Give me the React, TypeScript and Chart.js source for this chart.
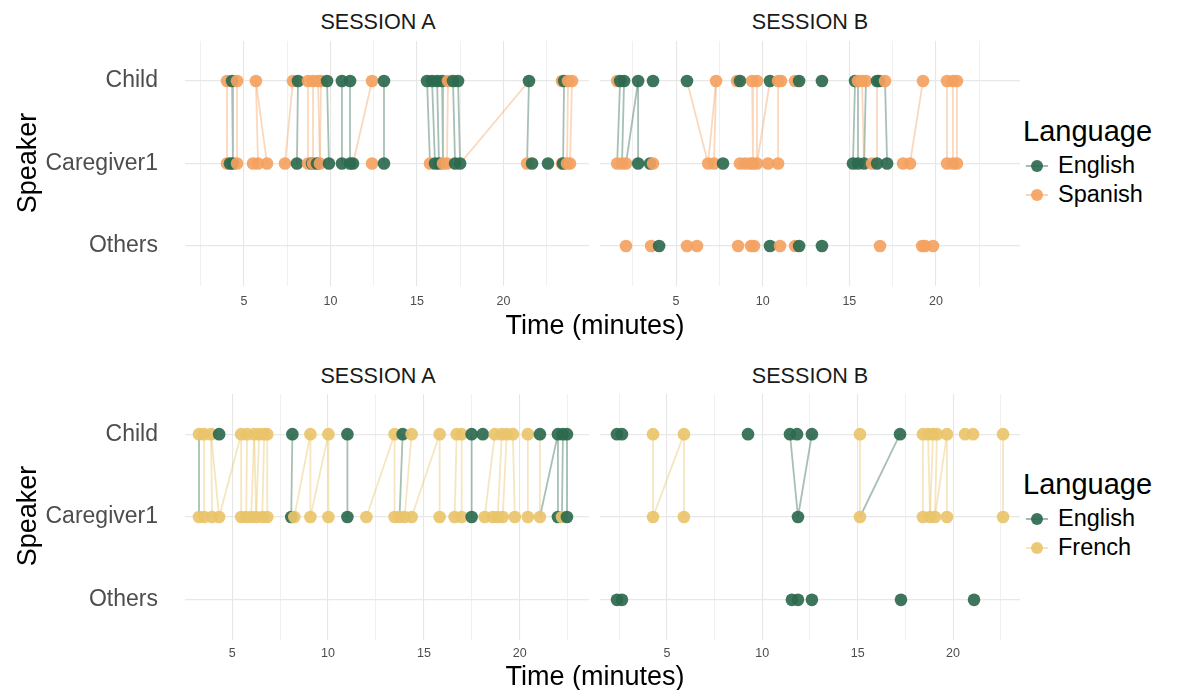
import React, { useEffect, useRef } from "react";
import { Chart, registerables } from "chart.js";
Chart.register(...registerables);

type Pt = [number, string];
type Link = [number, number, string];

const FONT = "'Liberation Sans', Arial, Helvetica, sans-serif";
const SPEAKERS = ["Others", "Caregiver1", "Child"];
const X_TICKS = [2.5, 5, 7.5, 10, 12.5, 15, 17.5, 20, 22.5];
const COLORS: Record<string, string> = { E: "45,106,79", S: "244,162,97", F: "233,196,106" };
const LANG_NAMES: Record<string, string> = { E: "English", S: "Spanish", F: "French" };

// ---- Spanish family, Session A ----
const spaA_child: Pt[] = [[4.02,"S"],[4.31,"E"],[4.60,"S"],[5.69,"S"],[7.83,"S"],[8.12,"E"],[8.70,"S"],[8.99,"S"],[9.28,"S"],[9.45,"S"],[9.80,"E"],[10.66,"E"],[11.13,"E"],[12.40,"S"],[13.09,"E"],[15.58,"E"],[15.87,"E"],[16.16,"E"],[16.45,"E"],[16.79,"S"],[17.08,"E"],[17.37,"E"],[21.47,"E"],[23.38,"S"],[23.50,"E"],[23.73,"S"],[23.96,"S"]];
const spaA_care: Pt[] = [[4.02,"S"],[4.19,"E"],[4.36,"E"],[4.60,"S"],[5.52,"S"],[5.81,"S"],[6.33,"S"],[7.37,"S"],[8.06,"E"],[8.70,"S"],[8.93,"E"],[8.99,"S"],[9.22,"E"],[9.39,"S"],[9.91,"E"],[10.66,"E"],[11.13,"E"],[11.30,"E"],[12.40,"S"],[13.09,"E"],[15.75,"S"],[16.04,"E"],[16.27,"E"],[16.50,"S"],[16.73,"S"],[17.20,"E"],[17.49,"E"],[21.36,"S"],[21.65,"E"],[22.57,"E"],[23.38,"S"],[23.44,"E"],[23.67,"S"],[23.84,"S"]];
const spaA_others: Pt[] = [];
const spaA_links: Link[] = [[4.02,4.02,"S"],[4.31,4.36,"E"],[4.60,4.60,"S"],[5.69,5.81,"S"],[5.69,6.33,"S"],[7.83,7.37,"S"],[8.12,8.06,"E"],[8.70,8.70,"S"],[8.99,8.99,"S"],[9.28,9.39,"S"],[9.45,9.39,"S"],[9.80,9.91,"E"],[10.66,10.66,"E"],[11.13,11.13,"E"],[12.40,11.30,"S"],[13.09,13.09,"E"],[15.58,15.75,"E"],[15.87,16.04,"E"],[16.16,16.27,"E"],[16.45,16.50,"E"],[16.79,16.73,"S"],[17.08,17.20,"E"],[17.37,17.49,"E"],[21.47,17.49,"S"],[21.47,21.36,"E"],[23.50,23.44,"E"],[23.73,23.67,"S"],[23.96,23.84,"S"]];

// ---- Spanish family, Session B ----
const spaB_child: Pt[] = [[1.60,"S"],[1.77,"E"],[2.00,"E"],[2.81,"E"],[3.67,"E"],[5.63,"E"],[7.31,"S"],[8.52,"S"],[8.69,"E"],[9.39,"S"],[9.67,"S"],[10.42,"E"],[10.89,"S"],[11.06,"S"],[11.87,"S"],[12.10,"E"],[13.42,"E"],[15.33,"E"],[15.50,"S"],[15.73,"S"],[15.96,"S"],[16.60,"E"],[16.71,"E"],[17.06,"S"],[19.25,"S"],[20.64,"S"],[20.98,"S"],[21.21,"S"]];
const spaB_care: Pt[] = [[1.60,"S"],[1.88,"S"],[2.11,"S"],[2.81,"E"],[3.50,"E"],[3.67,"S"],[6.85,"S"],[7.19,"S"],[7.71,"E"],[8.69,"S"],[8.98,"S"],[9.27,"S"],[9.44,"S"],[9.67,"S"],[10.31,"S"],[10.89,"S"],[15.21,"E"],[15.50,"E"],[15.85,"E"],[16.31,"S"],[16.60,"E"],[17.18,"E"],[18.10,"S"],[18.50,"S"],[20.64,"S"],[20.98,"S"],[21.21,"S"]];
const spaB_others: Pt[] = [[2.11,"S"],[3.56,"S"],[4.02,"E"],[5.63,"S"],[6.21,"S"],[8.58,"S"],[9.33,"S"],[9.50,"S"],[10.42,"E"],[11.00,"S"],[11.87,"S"],[12.10,"E"],[13.42,"E"],[16.77,"S"],[19.20,"S"],[19.37,"S"],[19.83,"S"]];
const spaB_links: Link[] = [[1.77,1.60,"E"],[2.00,1.88,"E"],[2.81,2.11,"E"],[2.81,2.81,"E"],[5.63,6.85,"S"],[7.31,6.85,"S"],[7.31,7.19,"S"],[9.39,9.44,"S"],[9.67,9.67,"S"],[10.42,9.67,"S"],[10.89,10.89,"S"],[15.33,15.21,"E"],[15.50,15.50,"E"],[15.73,15.85,"S"],[15.96,15.85,"E"],[16.60,16.60,"S"],[17.06,17.18,"E"],[19.25,18.50,"S"],[20.64,20.64,"S"],[20.98,20.98,"S"],[21.21,21.21,"S"]];

// ---- French family, Session A ----
const freA_child: Pt[] = [[3.27,"F"],[3.54,"F"],[3.90,"F"],[4.32,"E"],[5.47,"F"],[5.78,"F"],[6.15,"F"],[6.41,"F"],[6.67,"F"],[6.83,"F"],[8.14,"E"],[9.08,"F"],[10.02,"F"],[11.01,"E"],[13.47,"F"],[13.89,"E"],[14.36,"F"],[15.82,"F"],[16.71,"F"],[16.97,"F"],[17.49,"E"],[18.07,"E"],[18.70,"F"],[19.06,"F"],[19.32,"F"],[19.64,"F"],[20.42,"F"],[21.05,"E"],[21.99,"E"],[22.25,"E"],[22.46,"E"]];
const freA_care: Pt[] = [[3.27,"F"],[3.54,"F"],[3.95,"F"],[4.32,"F"],[5.47,"F"],[5.73,"F"],[5.99,"F"],[6.25,"F"],[6.57,"F"],[6.83,"F"],[8.08,"E"],[8.24,"F"],[9.08,"F"],[10.02,"F"],[11.01,"E"],[12.00,"F"],[13.47,"F"],[13.73,"F"],[13.99,"F"],[14.36,"F"],[15.82,"F"],[16.60,"F"],[16.97,"F"],[17.49,"E"],[18.17,"F"],[18.59,"F"],[18.85,"F"],[19.11,"F"],[19.74,"F"],[20.42,"F"],[21.05,"F"],[21.99,"E"],[22.20,"F"],[22.46,"E"]];
const freA_others: Pt[] = [];
const freA_links: Link[] = [[3.27,3.27,"E"],[3.54,3.54,"F"],[3.90,3.95,"F"],[3.90,4.32,"F"],[5.47,4.32,"F"],[5.47,5.47,"F"],[5.78,5.73,"F"],[6.15,5.99,"F"],[6.15,6.25,"F"],[6.41,6.25,"F"],[6.67,6.57,"F"],[6.83,6.83,"F"],[8.14,8.08,"E"],[9.08,8.24,"F"],[9.08,9.08,"F"],[10.02,9.08,"F"],[10.02,10.02,"F"],[11.01,11.01,"E"],[13.47,12.00,"F"],[13.47,13.47,"F"],[13.89,13.73,"E"],[14.36,13.99,"F"],[15.82,14.36,"F"],[15.82,15.82,"F"],[16.71,16.60,"F"],[16.97,16.97,"F"],[17.49,17.49,"E"],[18.70,18.17,"F"],[19.06,18.85,"F"],[19.32,19.11,"F"],[19.64,19.74,"F"],[20.42,20.42,"F"],[21.05,21.05,"F"],[21.99,21.05,"E"],[21.99,21.99,"E"],[22.25,22.20,"E"],[22.46,22.46,"E"]];

// ---- French family, Session B ----
const freB_child: Pt[] = [[2.38,"E"],[2.64,"E"],[4.27,"F"],[5.89,"F"],[9.25,"E"],[11.45,"E"],[11.82,"E"],[12.60,"E"],[15.12,"F"],[17.22,"E"],[18.42,"F"],[18.69,"F"],[18.95,"F"],[19.16,"F"],[19.68,"F"],[20.63,"F"],[21.05,"F"],[22.62,"F"]];
const freB_care: Pt[] = [[4.27,"F"],[5.89,"F"],[11.87,"E"],[15.12,"F"],[18.42,"F"],[18.79,"F"],[19.05,"F"],[19.68,"F"],[22.62,"F"]];
const freB_others: Pt[] = [[2.38,"E"],[2.64,"E"],[11.55,"E"],[11.87,"E"],[12.60,"E"],[17.27,"E"],[21.10,"E"]];
const freB_links: Link[] = [[4.27,4.27,"F"],[5.89,4.27,"F"],[5.89,5.89,"F"],[11.45,11.87,"E"],[12.60,11.87,"E"],[15.12,15.12,"F"],[17.22,15.12,"E"],[18.42,18.42,"F"],[18.69,18.79,"F"],[18.95,18.79,"F"],[19.16,19.05,"F"],[19.68,19.05,"F"],[19.68,19.68,"F"],[22.62,22.62,"F"]];

const TOP_LANGS = ["E", "S"];
const BOTTOM_LANGS = ["E", "F"];

interface PanelCfg {
  child: Pt[]; care: Pt[]; others: Pt[]; links: Link[];
  xMin: number; xMax: number;
  left: number; top: number; width: number; height: number; axisH: number; tickPad: number; showY: boolean;
}

const PANELS: PanelCfg[] = [
  { child: spaA_child, care: spaA_care, others: spaA_others, links: spaA_links, xMin: 1.59, xMax: 24.94, left: 0, top: 41, width: 589, height: 274, axisH: 29, tickPad: 8, showY: true },
  { child: spaB_child, care: spaB_care, others: spaB_others, links: spaB_links, xMin: 0.61, xMax: 24.85, left: 600, top: 41, width: 420, height: 274, axisH: 29, tickPad: 8, showY: false },
  { child: freA_child, care: freA_care, others: freA_others, links: freA_links, xMin: 2.54, xMax: 23.61, left: 0, top: 394, width: 589, height: 276, axisH: 30, tickPad: 6, showY: true },
  { child: freB_child, care: freB_care, others: freB_others, links: freB_links, xMin: 1.49, xMax: 23.51, left: 600, top: 394, width: 420, height: 276, axisH: 30, tickPad: 6, showY: false },
];

const rgba = (c: string, a: number) => `rgba(${COLORS[c]},${a})`;

const zeroPad = (s: any) => {
  s.paddingTop = 0; s.paddingBottom = 0; s.paddingLeft = 0; s.paddingRight = 0;
};

function Panel({ cfg }: { cfg: PanelCfg }) {
  const ref = useRef<HTMLCanvasElement | null>(null);
  useEffect(() => {
    if (!ref.current) return;
    const pts: { x: number; y: number; c: string }[] = [];
    cfg.child.forEach(([t, l]) => pts.push({ x: t, y: 2, c: l }));
    cfg.care.forEach(([t, l]) => pts.push({ x: t, y: 1, c: l }));
    cfg.others.forEach(([t, l]) => pts.push({ x: t, y: 0, c: l }));
    const datasets: any[] = [
      {
        data: pts.map((p) => ({ x: p.x, y: p.y })),
        backgroundColor: pts.map((p) => rgba(p.c, 0.92)),
        borderWidth: 0,
        pointRadius: 6.3,
        pointHoverRadius: 6.3,
        order: 0,
      },
    ];
    cfg.links.forEach(([a, b, l]) => {
      datasets.push({
        data: [{ x: a, y: 2 }, { x: b, y: 1 }],
        showLine: true,
        borderColor: rgba(l, 0.42),
        borderWidth: 1.8,
        pointRadius: 0,
        order: 1,
      });
    });
    const { xMin, xMax } = cfg;
    const chart = new Chart(ref.current, {
      type: "scatter",
      data: { datasets },
      options: {
        animation: false,
        responsive: false,
        events: [],
        layout: { padding: 0, autoPadding: false },
        plugins: { legend: { display: false }, tooltip: { enabled: false } },
        scales: {
          x: {
            type: "linear",
            min: xMin,
            max: xMax,
            afterBuildTicks: (s: any) => {
              s.ticks = X_TICKS.filter((v) => v >= xMin && v <= xMax).map((v) => ({ value: v }));
            },
            afterFit: (s: any) => { s.height = cfg.axisH; zeroPad(s); },
            ticks: {
              autoSkip: false,
              maxRotation: 0,
              padding: cfg.tickPad,
              color: "#4d4d4d",
              font: { size: 12.5, family: FONT },
              callback: (v: any) => (Number(v) % 5 === 0 ? String(v) : ""),
            },
            grid: {
              drawTicks: false,
              color: (c: any) => (c.tick && c.tick.value % 5 === 0 ? "#e6e6e6" : "#eeeeee"),
              lineWidth: (c: any) => (c.tick && c.tick.value % 5 === 0 ? 1.1 : 0.9),
            },
            border: { display: false },
          },
          y: {
            type: "linear",
            min: -0.485,
            max: 2.485,
            afterBuildTicks: (s: any) => { s.ticks = [0, 1, 2].map((v) => ({ value: v })); },
            afterFit: (s: any) => { s.width = cfg.showY ? 185 : 0; zeroPad(s); },
            ticks: {
              display: cfg.showY,
              padding: 27,
              color: "#4d4d4d",
              font: { size: 23, family: FONT },
              callback: (v: any) => SPEAKERS[Math.round(Number(v))] || "",
            },
            grid: { drawTicks: false, color: "#e8e8e8", lineWidth: 1.3 },
            border: { display: false },
          },
        },
      },
    } as any);
    return () => chart.destroy();
  }, [cfg]);
  return (
    <canvas
      ref={ref}
      width={cfg.width}
      height={cfg.height}
      style={{ position: "absolute", left: cfg.left, top: cfg.top, width: cfg.width, height: cfg.height }}
    />
  );
}

function Txt({ x, y, size, children, color = "#000", align = "center", rotate = false }: any) {
  const tx = align === "center" ? "-50%" : "0";
  return (
    <div
      style={{
        position: "absolute",
        left: x,
        top: y,
        transform: rotate ? "translate(-50%,-50%) rotate(-90deg)" : `translate(${tx},-50%)`,
        fontFamily: FONT,
        fontSize: size,
        color,
        whiteSpace: "nowrap",
        lineHeight: 1,
      }}
    >
      {children}
    </div>
  );
}

function LegendBlock({ titleY, langs }: { titleY: number; langs: string[] }) {
  return (
    <>
      <Txt x={1023} y={titleY} size={29} align="left">Language</Txt>
      {langs.map((l, i) => {
        const cy = titleY + 35 + i * 29;
        return (
          <React.Fragment key={l}>
            <div style={{ position: "absolute", left: 1026, top: cy - 1, width: 22, height: 2, background: rgba(l, 0.45) }} />
            <div style={{ position: "absolute", left: 1037 - 6.3, top: cy - 6.3, width: 12.6, height: 12.6, borderRadius: "50%", background: rgba(l, 0.92) }} />
            <Txt x={1058} y={cy} size={23.5} align="left">{LANG_NAMES[l]}</Txt>
          </React.Fragment>
        );
      })}
    </>
  );
}

export default function App() {
  return (
    <div style={{ position: "absolute", left: 0, top: 0, width: 1178, height: 690, background: "#fff", overflow: "hidden" }}>
      {PANELS.map((p, i) => <Panel key={i} cfg={p} />)}
      <Txt x={378} y={22} size={21.6} color="#1a1a1a">SESSION A</Txt>
      <Txt x={810} y={22} size={21.6} color="#1a1a1a">SESSION B</Txt>
      <Txt x={378} y={376} size={21.6} color="#1a1a1a">SESSION A</Txt>
      <Txt x={810} y={376} size={21.6} color="#1a1a1a">SESSION B</Txt>
      <Txt x={595} y={325} size={27}>Time (minutes)</Txt>
      <Txt x={595} y={676} size={27}>Time (minutes)</Txt>
      <Txt x={27} y={163} size={27} rotate>Speaker</Txt>
      <Txt x={27} y={516} size={27} rotate>Speaker</Txt>
      <LegendBlock titleY={131} langs={TOP_LANGS} />
      <LegendBlock titleY={484} langs={BOTTOM_LANGS} />
    </div>
  );
}
